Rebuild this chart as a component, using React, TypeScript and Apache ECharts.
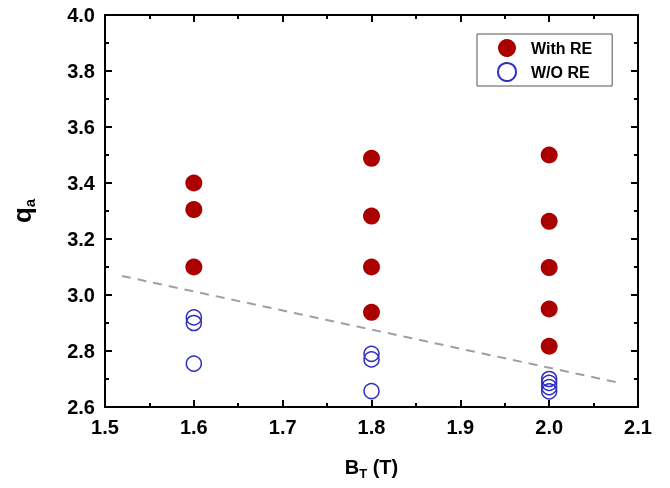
import React, { useEffect, useRef } from "react";
import * as echarts from "echarts";

const withRE: [number, number][] = [
  [1.6, 3.4], [1.6, 3.305], [1.6, 3.1],
  [1.8, 3.488], [1.8, 3.282], [1.8, 3.1], [1.8, 2.938],
  [2.0, 3.5], [2.0, 3.263], [2.0, 3.098], [2.0, 2.95], [2.0, 2.817],
];
const withoutRE: [number, number][] = [
  [1.6, 2.92], [1.6, 2.9], [1.6, 2.755],
  [1.8, 2.79], [1.8, 2.77], [1.8, 2.657],
  [2.0, 2.7], [2.0, 2.686], [2.0, 2.671], [2.0, 2.656],
];
const trendLine: [number, number][] = [
  [1.519, 3.068], [2.075, 2.689],
];

const FONT = "Liberation Sans, Arial, sans-serif";
const INK = "#000000";
const TXT = "#000000";

export default function App() {
  const ref = useRef<HTMLDivElement>(null);
  useEffect(() => {
    if (!ref.current) return;
    const chart = echarts.init(ref.current, null, { renderer: "svg" });
    const labelStyle = {
      fontFamily: FONT, fontWeight: "bold", fontSize: 20, color: TXT, margin: 10,
      formatter: (v: number) => v.toFixed(1),
    };
    const mk = (o: any, len: number, line: boolean) => ({
      type: "value",
      splitLine: { show: false },
      axisLine: { show: line, onZero: false, lineStyle: { color: INK, width: 2, type: "solid", opacity: 1 } },
      axisTick: { show: true, inside: true, length: len, lineStyle: { color: INK, width: 2, type: "solid", opacity: 1 } },
      ...o,
    });
    chart.setOption({
      animation: false,
      grid: { left: 105, right: 32, top: 15, bottom: 81, containLabel: false, outerBoundsMode: "none" },
      legend: {
        left: 477,
        top: 34,
        orient: "vertical",
        borderColor: "#555555",
        borderWidth: 1,
        padding: [5, 20, 4, 20],
        itemGap: 5,
        itemWidth: 18,
        itemHeight: 18,
        textStyle: { fontFamily: FONT, fontWeight: "bold", fontSize: 16, color: TXT, padding: [0, 0, 0, 10] },
        data: [{ name: "With RE" }, { name: "W/O RE" }],
      },
      xAxis: [
        mk({
          min: 1.5, max: 2.1, interval: 0.1, position: "bottom",
          axisLabel: labelStyle,
          name: "{b|B}{s|T}{b| (T)}",
          nameLocation: "middle",
          nameGap: 47,
          nameTextStyle: {
            fontFamily: FONT, fontWeight: "bold", fontSize: 20, color: TXT,
            rich: {
              b: { fontFamily: FONT, fontWeight: "bold", fontSize: 20, color: TXT },
              s: { fontFamily: FONT, fontWeight: "bold", fontSize: 13, color: TXT, verticalAlign: "bottom", padding: [13, 0, 0, 0] },
            },
          },
        }, 7, true),
        mk({ min: 1.5, max: 2.1, interval: 0.1, position: "top", axisLabel: { show: false } }, 7, true),
        mk({ min: 1.5, max: 2.1, interval: 0.05, position: "bottom", axisLabel: { show: false } }, 4, false),
        mk({ min: 1.5, max: 2.1, interval: 0.05, position: "top", axisLabel: { show: false } }, 4, false),
      ],
      yAxis: [
        mk({
          min: 2.6, max: 4.0, interval: 0.2, position: "left",
          axisLabel: labelStyle,
          name: "{b|q}{s|a}",
          nameLocation: "middle",
          nameGap: 68,
          nameRotate: 90,
          nameTextStyle: {
            fontFamily: FONT, fontWeight: "bold", fontSize: 26, color: TXT,
            rich: {
              b: { fontFamily: FONT, fontWeight: "bold", fontSize: 26, color: TXT },
              s: { fontFamily: FONT, fontWeight: "bold", fontSize: 15, color: TXT, verticalAlign: "bottom", padding: [15, 0, 0, 0] },
            },
          },
        }, 7, true),
        mk({ min: 2.6, max: 4.0, interval: 0.2, position: "right", axisLabel: { show: false } }, 7, true),
        mk({ min: 2.6, max: 4.0, interval: 0.1, position: "left", axisLabel: { show: false } }, 4, false),
        mk({ min: 2.6, max: 4.0, interval: 0.1, position: "right", axisLabel: { show: false } }, 4, false),
      ],
      series: [
        {
          name: "trend",
          type: "line",
          data: trendLine,
          symbol: "none",
          lineStyle: { color: "#a0a0a0", width: 2, type: [9, 7] },
          silent: true,
          z: 1,
        },
        {
          name: "With RE",
          type: "scatter",
          data: withRE,
          symbol: "circle",
          symbolSize: 17,
          itemStyle: { color: "#aa0000", opacity: 1 },
          z: 3,
        },
        {
          name: "W/O RE",
          type: "scatter",
          data: withoutRE,
          symbol: "circle",
          symbolSize: 15,
          itemStyle: { color: "transparent", borderColor: "#3030c0", borderWidth: 1.5, opacity: 1 },
          z: 3,
        },
      ],
    });
    return () => chart.dispose();
  }, []);
  return <div ref={ref} style={{ position: "fixed", left: 0, top: 0, width: 670, height: 488 }} />;
}
